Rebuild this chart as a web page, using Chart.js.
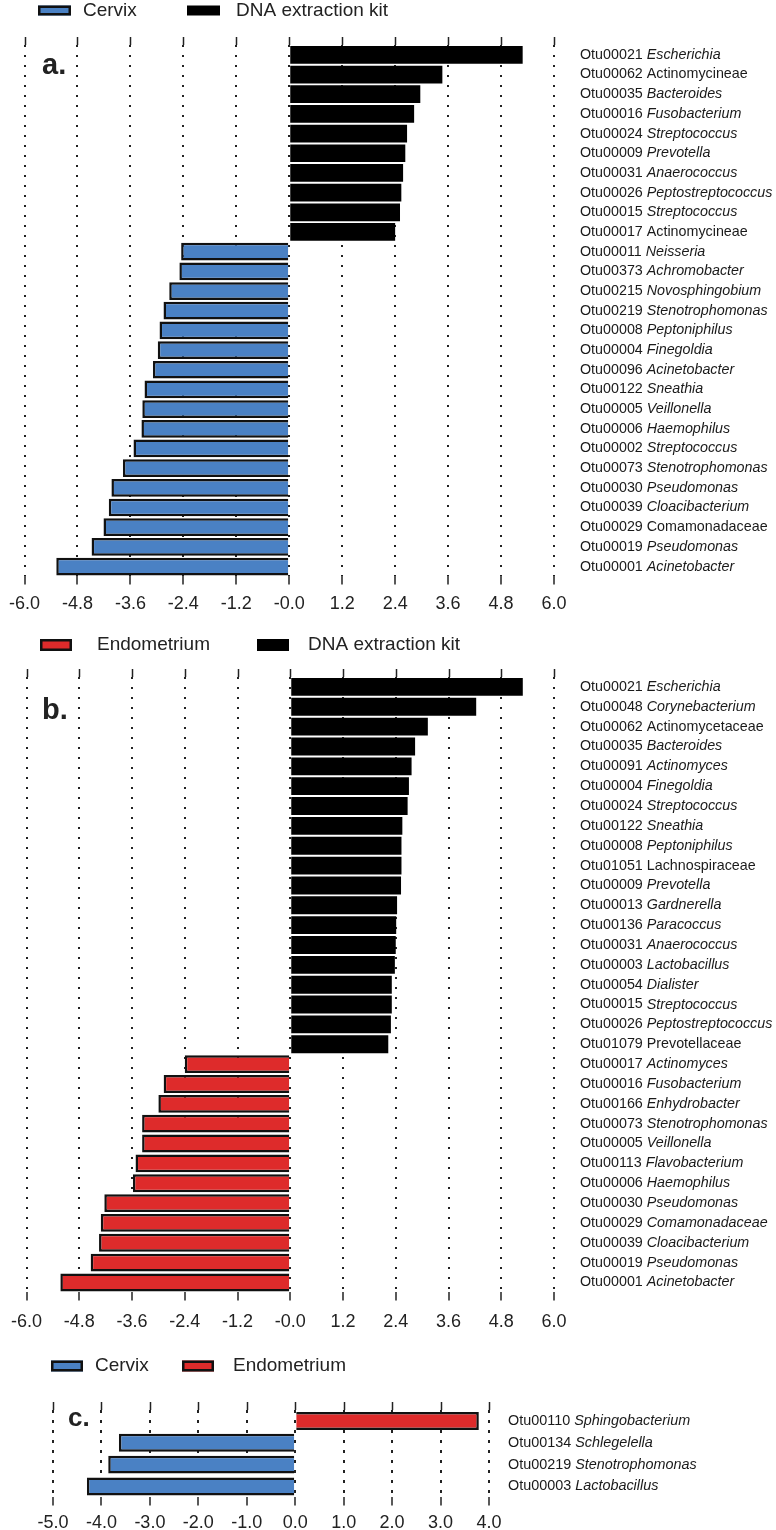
<!DOCTYPE html>
<html>
<head>
<meta charset="utf-8">
<title>Differentially abundant OTUs</title>
<script src="https://cdn.jsdelivr.net/npm/chart.js@4.4.1/dist/chart.umd.min.js"></script>
<style>
  body { margin: 0; background: #fff; }
  #page { position: relative; width: 776px; height: 1530px; overflow: hidden; }
  canvas { position: absolute; left: 0; }
</style>
</head>
<body>
<div id="page">
  <canvas id="chartA" width="776" height="630" style="top:0"></canvas>
  <canvas id="chartB" width="776" height="728" style="top:620px"></canvas>
  <canvas id="chartC" width="776" height="202" style="top:1338px"></canvas>
</div>
<script>
const FONT = '"Liberation Sans", Arial, sans-serif';
const BLUE = '#4a81c4', RED = '#de2b2b', BLACK = '#000000';

// a. Cervix vs DNA extraction kit
const aOtu = ['Otu00021', 'Otu00062', 'Otu00035', 'Otu00016', 'Otu00024', 'Otu00009', 'Otu00031',
  'Otu00026', 'Otu00015', 'Otu00017', 'Otu00011', 'Otu00373', 'Otu00215', 'Otu00219', 'Otu00008',
  'Otu00004', 'Otu00096', 'Otu00122', 'Otu00005', 'Otu00006', 'Otu00002', 'Otu00073', 'Otu00030',
  'Otu00039', 'Otu00029', 'Otu00019', 'Otu00001'];
const aTaxa = ['Escherichia', 'Actinomycineae', 'Bacteroides', 'Fusobacterium', 'Streptococcus',
  'Prevotella', 'Anaerococcus', 'Peptostreptococcus', 'Streptococcus', 'Actinomycineae', 'Neisseria',
  'Achromobacter', 'Novosphingobium', 'Stenotrophomonas', 'Peptoniphilus', 'Finegoldia', 'Acinetobacter',
  'Sneathia', 'Veillonella', 'Haemophilus', 'Streptococcus', 'Stenotrophomonas', 'Pseudomonas',
  'Cloacibacterium', 'Comamonadaceae', 'Pseudomonas', 'Acinetobacter'];
const aPlain = ['Actinomycineae', 'Comamonadaceae'];
const aKit = [5.29, 3.47, 2.97, 2.83, 2.67, 2.63, 2.58, 2.54, 2.51, 2.40];
const aCervix = [-2.45, -2.49, -2.72, -2.85, -2.94, -2.98, -3.09, -3.28, -3.33, -3.35, -3.53, -3.77,
  -4.03, -4.09, -4.21, -4.48, -5.28];

// b. Endometrium vs DNA extraction kit
const bOtu = ['Otu00021', 'Otu00048', 'Otu00062', 'Otu00035', 'Otu00091', 'Otu00004', 'Otu00024',
  'Otu00122', 'Otu00008', 'Otu01051', 'Otu00009', 'Otu00013', 'Otu00136', 'Otu00031', 'Otu00003',
  'Otu00054', 'Otu00015', 'Otu00026', 'Otu01079', 'Otu00017', 'Otu00016', 'Otu00166', 'Otu00073',
  'Otu00005', 'Otu00113', 'Otu00006', 'Otu00030', 'Otu00029', 'Otu00039', 'Otu00019', 'Otu00001'];
const bTaxa = ['Escherichia', 'Corynebacterium', 'Actinomycetaceae', 'Bacteroides', 'Actinomyces',
  'Finegoldia', 'Streptococcus', 'Sneathia', 'Peptoniphilus', 'Lachnospiraceae', 'Prevotella',
  'Gardnerella', 'Paracoccus', 'Anaerococcus', 'Lactobacillus', 'Dialister', 'Streptococcus',
  'Peptostreptococcus', 'Prevotellaceae', 'Actinomyces', 'Fusobacterium', 'Enhydrobacter',
  'Stenotrophomonas', 'Veillonella', 'Flavobacterium', 'Haemophilus', 'Pseudomonas', 'Comamonadaceae',
  'Cloacibacterium', 'Pseudomonas', 'Acinetobacter'];
const bPlain = ['Actinomycetaceae', 'Lachnospiraceae', 'Prevotellaceae'];
const bKit = [5.29, 4.23, 3.13, 2.84, 2.76, 2.70, 2.67, 2.55, 2.53, 2.53, 2.52, 2.43, 2.41, 2.40,
  2.38, 2.31, 2.31, 2.29, 2.23];
const bEndo = [-2.40, -2.88, -3.00, -3.37, -3.37, -3.52, -3.58, -4.23, -4.31, -4.35, -4.54, -5.23];

// c. Cervix vs Endometrium
const cOtu = ['Otu00110', 'Otu00134', 'Otu00219', 'Otu00003'];
const cTaxa = ['Sphingobacterium', 'Schlegelella', 'Stenotrophomonas', 'Lactobacillus'];
const cEndo = [3.79];
const cCervix = [-3.64, -3.86, -4.30];

function nulls(n) { return new Array(n).fill(null); }

// otu id upright, genus italic (family names upright)
function rowLabels(otu, taxa, plain, size, gap) {
  return {
    id: 'rowLabels',
    afterDraw(chart) {
      const ctx = chart.ctx, y = chart.scales.y;
      const x0 = chart.chartArea.right + gap;
      ctx.save();
      ctx.fillStyle = '#1a1a1a';
      ctx.textBaseline = 'middle';
      otu.forEach((id, i) => {
        const py = y.getPixelForValue(i);
        ctx.font = size + 'px ' + FONT;
        ctx.fillText(id + ' ', x0, py);
        const w = ctx.measureText(id + ' ').width;
        ctx.font = (plain.includes(taxa[i]) ? '' : 'italic ') + size + 'px ' + FONT;
        ctx.fillText(taxa[i], x0 + w, py);
      });
      ctx.restore();
    }
  };
}

function legendRow(items, cy, boxW, boxH, size) {
  return {
    id: 'legendRow',
    afterDraw(chart) {
      const ctx = chart.ctx;
      ctx.save();
      chart.data.datasets.forEach((ds, i) => {
        const it = items[i];
        ctx.fillStyle = ds.backgroundColor;
        ctx.fillRect(it.box, cy - boxH / 2, boxW, boxH);
        if (ds.borderWidth) {
          ctx.strokeStyle = '#111';
          ctx.lineWidth = 2.5;
          ctx.strokeRect(it.box + 1.25, cy - boxH / 2 + 1.25, boxW - 2.5, boxH - 2.5);
        }
        ctx.fillStyle = '#222';
        ctx.textBaseline = 'middle';
        ctx.font = size + 'px ' + FONT;
        ctx.fillText(ds.label, it.text, cy);
      });
      ctx.restore();
    }
  };
}

function panelLetter(text, x, y, size) {
  return {
    id: 'panelLetter',
    afterDraw(chart) {
      const ctx = chart.ctx;
      ctx.save();
      ctx.fillStyle = '#222';
      ctx.font = 'bold ' + size + 'px ' + FONT;
      ctx.fillText(text, x, y);
      ctx.restore();
    }
  };
}

const topTicks = {
  id: 'topTicks',
  afterDraw(chart) {
    const ctx = chart.ctx, x = chart.scales.x, top = chart.chartArea.top;
    ctx.save();
    ctx.strokeStyle = '#222';
    ctx.lineWidth = 1.5;
    x.ticks.forEach(t => {
      const px = Math.round(x.getPixelForValue(t.value)) + 0.5;
      ctx.beginPath();
      ctx.moveTo(px, top - 8);
      ctx.lineTo(px, top);
      ctx.stroke();
    });
    ctx.restore();
  }
};

function makeChart(id, o) {
  return new Chart(document.getElementById(id), {
    type: 'bar',
    data: { labels: o.labels, datasets: o.datasets },
    options: {
      indexAxis: 'y',
      responsive: false,
      animation: false,
      layout: { padding: o.padding },
      datasets: { bar: { barPercentage: o.barPct, categoryPercentage: 1 } },
      plugins: { legend: { display: false }, tooltip: { enabled: false } },
      scales: {
        x: {
          type: 'linear',
          min: o.min,
          max: o.max,
          stacked: true,
          z: 1,
          border: { display: false, dash: o.dash },
          grid: {
            color: '#222',
            lineWidth: 2,
            tickLength: 8,
            tickColor: '#222',
            tickWidth: 1.5,
            tickBorderDash: []
          },
          ticks: {
            stepSize: o.step,
            padding: o.tickPad,
            color: '#222',
            maxRotation: 0,
            autoSkip: false,
            font: { family: FONT, size: 18 },
            callback: o.tickText
          }
        },
        y: { stacked: true, display: false }
      }
    },
    plugins: o.plugins
  });
}

const abTick = v => (v === 0 ? '-0.0' : v.toFixed(1));

makeChart('chartA', {
  labels: aOtu.map((o, i) => o + ' ' + aTaxa[i]),
  datasets: [
    { label: 'Cervix', data: nulls(aKit.length).concat(aCervix), backgroundColor: BLUE, borderColor: '#111', borderWidth: 2.5 },
    { label: 'DNA extraction kit', data: aKit.concat(nulls(aCervix.length)), backgroundColor: BLACK, borderWidth: 0 }
  ],
  min: -6, max: 6, step: 1.2,
  padding: { left: 24, right: 222, top: 45, bottom: 6 },
  dash: [2, 8], barPct: 0.9, tickPad: 9, tickText: abTick,
  plugins: [
    topTicks,
    rowLabels(aOtu, aTaxa, aPlain, 14.3, 26),
    legendRow([{ box: 38, text: 83 }, { box: 187, text: 236 }], 10.5, 33, 10, 19),
    panelLetter('a.', 42, 74, 29)
  ]
});

makeChart('chartB', {
  labels: bOtu.map((o, i) => o + ' ' + bTaxa[i]),
  datasets: [
    { label: 'Endometrium', data: nulls(bKit.length).concat(bEndo), backgroundColor: RED, borderColor: '#111', borderWidth: 2.5 },
    { label: 'DNA extraction kit', data: bKit.concat(nulls(bEndo.length)), backgroundColor: BLACK, borderWidth: 0 }
  ],
  min: -6, max: 6, step: 1.2,
  padding: { left: 24, right: 222, top: 57, bottom: 4 },
  dash: [2, 8], barPct: 0.9, tickPad: 11, tickText: abTick,
  plugins: [
    topTicks,
    rowLabels(bOtu, bTaxa, bPlain, 14.3, 26),
    legendRow([{ box: 40, text: 97 }, { box: 257, text: 308 }], 25, 32, 12, 19),
    panelLetter('b.', 42, 99, 29)
  ]
});

makeChart('chartC', {
  labels: cOtu.map((o, i) => o + ' ' + cTaxa[i]),
  datasets: [
    { label: 'Cervix', data: nulls(cEndo.length).concat(cCervix), backgroundColor: BLUE, borderColor: '#111', borderWidth: 2.5 },
    { label: 'Endometrium', data: cEndo.concat(nulls(cCervix.length)), backgroundColor: RED, borderColor: '#111', borderWidth: 2.5 }
  ],
  min: -5, max: 4, step: 1,
  padding: { left: 53, right: 287, top: 72, bottom: 0 },
  dash: [3, 7], barPct: 0.82, tickPad: 6.5, tickText: v => v.toFixed(1),
  plugins: [
    topTicks,
    rowLabels(cOtu, cTaxa, [], 14.4, 19),
    legendRow([{ box: 51, text: 95 }, { box: 182, text: 233 }], 28, 32, 11, 19),
    panelLetter('c.', 68, 88, 26)
  ]
});
</script>
</body>
</html>
